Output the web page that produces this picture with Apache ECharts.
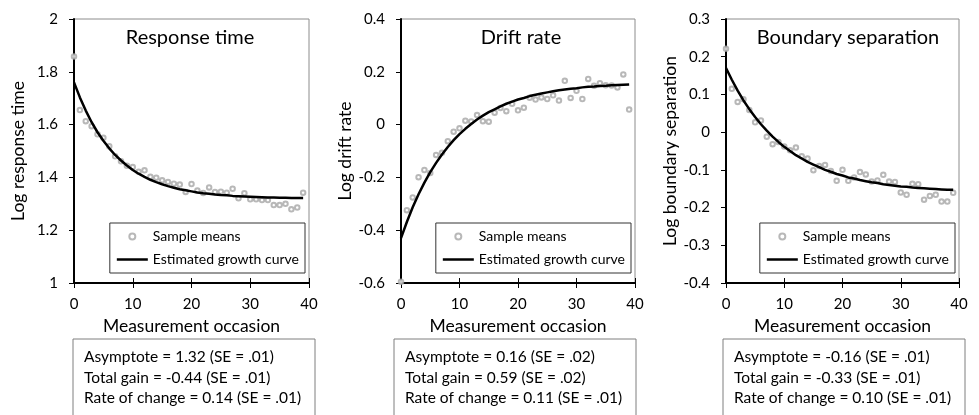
<!DOCTYPE html>
<html>
<head>
<meta charset="utf-8">
<script src="https://cdn.jsdelivr.net/npm/echarts@6/dist/echarts.min.js"></script>
<style>
  html, body { margin: 0; padding: 0; background: #fff; }
  #chart { width: 979px; height: 415px; }
</style>
</head>
<body>
<div id="chart"></div>
<script>
const FONT = 'Lato'

const panelTitles = ['Response time', 'Drift rate', 'Boundary separation']
const yNames = ['Log response time', 'Log drift rate', 'Log boundary separation']
const yMin = [1, -0.6, -0.4]
const yMax = [2, 0.4, 0.3]
const yStep = [0.2, 0.2, 0.1]

// measurement occasions (shared by the sample means and the fitted curve)
const occasions = [0, 1, 2, 3, 4, 5, 6, 7, 8, 9, 10, 11, 12, 13, 14, 15, 16, 17, 18, 19,
  20, 21, 22, 23, 24, 25, 26, 27, 28, 29, 30, 31, 32, 33, 34, 35, 36, 37, 38, 39]

const rtMeans = [1.858, 1.655, 1.613, 1.594, 1.563, 1.550, 1.518, 1.480, 1.461, 1.444,
  1.439, 1.421, 1.427, 1.402, 1.399, 1.389, 1.383, 1.376, 1.373, 1.345,
  1.375, 1.350, 1.341, 1.362, 1.345, 1.346, 1.342, 1.357, 1.321, 1.340,
  1.317, 1.317, 1.314, 1.314, 1.295, 1.295, 1.300, 1.279, 1.286, 1.342]

const driftMeans = [-0.595, -0.324, -0.276, -0.199, -0.172, -0.183, -0.115, -0.107, -0.063, -0.027,
  -0.014, 0.015, 0.012, 0.036, 0.013, 0.011, 0.045, 0.063, 0.051, 0.079,
  0.054, 0.064, 0.102, 0.095, 0.103, 0.097, 0.111, 0.091, 0.166, 0.101,
  0.128, 0.097, 0.173, 0.147, 0.157, 0.149, 0.148, 0.141, 0.190, 0.057]

const boundMeans = [0.221, 0.115, 0.080, 0.087, 0.059, 0.026, 0.031, -0.012, -0.032, -0.026,
  -0.038, -0.048, -0.041, -0.064, -0.070, -0.101, -0.090, -0.087, -0.103, -0.129,
  -0.100, -0.129, -0.120, -0.106, -0.112, -0.131, -0.128, -0.113, -0.131, -0.132,
  -0.160, -0.166, -0.137, -0.138, -0.179, -0.169, -0.166, -0.184, -0.184, -0.161]

// estimated growth curves, read at every occasion
const rtCurve = [1.760, 1.703, 1.653, 1.609, 1.571, 1.539, 1.510, 1.485, 1.464, 1.445,
  1.428, 1.414, 1.402, 1.391, 1.382, 1.374, 1.367, 1.361, 1.355, 1.351,
  1.347, 1.343, 1.340, 1.338, 1.335, 1.333, 1.332, 1.330, 1.329, 1.328,
  1.327, 1.326, 1.325, 1.324, 1.324, 1.323, 1.323, 1.322, 1.322, 1.322]
const driftCurve = [-0.430, -0.369, -0.313, -0.264, -0.220, -0.180, -0.145, -0.113, -0.085, -0.059,
  -0.036, -0.016, 0.002, 0.019, 0.034, 0.047, 0.058, 0.069, 0.079, 0.087,
  0.095, 0.101, 0.108, 0.113, 0.118, 0.122, 0.126, 0.130, 0.133, 0.136,
  0.138, 0.141, 0.143, 0.144, 0.146, 0.147, 0.149, 0.150, 0.151, 0.152]
const boundCurve = [0.170, 0.139, 0.110, 0.084, 0.061, 0.040, 0.021, 0.004, -0.012, -0.026,
  -0.039, -0.050, -0.061, -0.070, -0.079, -0.086, -0.093, -0.100, -0.105, -0.111,
  -0.115, -0.120, -0.123, -0.127, -0.130, -0.133, -0.135, -0.138, -0.140, -0.142,
  -0.144, -0.145, -0.147, -0.148, -0.149, -0.150, -0.151, -0.152, -0.153, -0.153]

// parameter estimates shown under each panel
const asymptote = [1.32, 0.16, -0.16]
const asymptoteSE = [0.01, 0.02, 0.01]
const totalGain = [-0.44, 0.59, -0.33]
const totalGainSE = [0.01, 0.02, 0.01]
const rate = [0.14, 0.11, 0.10]
const rateSE = [0.01, 0.01, 0.01]

const means = [rtMeans, driftMeans, boundMeans]
const curves = [rtCurve, driftCurve, boundCurve]

// layout
const gridLeft = [74, 401, 726]
const gridWidth = [235, 234, 233]
const titleX = [190, 521, 848]
const boxLeft = [73, 394, 723]

const se = v => v.toFixed(2).replace(/^0/, '')

const chart = echarts.init(document.getElementById('chart'))

const grid = [], xAxis = [], yAxis = [], series = [], title = [], legend = [], graphic = []

for (let i = 0; i < 3; i++) {
  grid.push({
    left: gridLeft[i], top: 19, width: gridWidth[i], height: 264,
    show: true, borderColor: '#8c8c8c', borderWidth: 1
  })
  xAxis.push({
    type: 'value', gridIndex: i, min: 0, max: 40, interval: 10,
    name: 'Measurement occasion', nameLocation: 'middle', nameGap: 29,
    nameTextStyle: { fontFamily: FONT, fontSize: 17.5, color: '#000' },
    axisLine: { onZero: false, lineStyle: { color: '#000', width: 2 } },
    axisTick: { length: 5, lineStyle: { color: '#000', width: 1 } },
    axisLabel: { margin: 14, fontFamily: FONT, fontSize: 15, color: '#000' },
    splitLine: { show: false }
  })
  yAxis.push({
    type: 'value', gridIndex: i, min: yMin[i], max: yMax[i], interval: yStep[i],
    name: yNames[i], nameLocation: 'middle', nameGap: 47, nameRotate: 90,
    nameTextStyle: { fontFamily: FONT, fontSize: 17.5, color: '#000' },
    axisLine: { onZero: false, lineStyle: { color: '#000', width: 2 } },
    axisTick: { length: 5, lineStyle: { color: '#000', width: 1 } },
    axisLabel: { margin: 16, fontFamily: FONT, fontSize: 15, color: '#000' },
    splitLine: { show: false }
  })
  title.push({
    text: panelTitles[i], left: titleX[i], top: 28, textAlign: 'center', padding: 0,
    textStyle: { fontFamily: FONT, fontSize: 20, fontWeight: 'normal', color: '#000' }
  })
  legend.push({
    right: 979 - (gridLeft[i] + gridWidth[i]) + 4, top: 223, orient: 'vertical',
    backgroundColor: '#fff', borderColor: '#333', borderWidth: 1,
    padding: [5, 6, 5, 7], itemGap: 6, itemWidth: 31, itemHeight: 6,
    selectedMode: false,
    textStyle: { fontFamily: FONT, fontSize: 14, lineHeight: 17, color: '#000' },
    data: [
      { name: 'Sample means', icon: 'emptyCircle' },
      { name: 'Estimated growth curve', icon: 'path://M0,0L31,0L31,2.5L0,2.5Z' }
    ]
  })
  series.push({
    type: 'scatter', name: 'Sample means', xAxisIndex: i, yAxisIndex: i,
    symbol: 'emptyCircle', symbolSize: 4.5,
    itemStyle: { color: '#a6a6a6', borderColor: '#a6a6a6', borderWidth: 1 },
    data: occasions.map((x, k) => [x, means[i][k]])
  })
  series.push({
    type: 'line', name: 'Estimated growth curve', xAxisIndex: i, yAxisIndex: i,
    symbol: 'none', showSymbol: false,
    lineStyle: { color: '#000', width: 2.5 }, itemStyle: { color: '#000' },
    data: occasions.map((x, k) => [x, curves[i][k]])
  })
  const lines = [
    'Asymptote = ' + asymptote[i].toFixed(2) + ' (SE = ' + se(asymptoteSE[i]) + ')',
    'Total gain = ' + totalGain[i].toFixed(2) + ' (SE = ' + se(totalGainSE[i]) + ')',
    'Rate of change = ' + rate[i].toFixed(2) + ' (SE = ' + se(rateSE[i]) + ')'
  ]
  graphic.push({
    type: 'rect', shape: { x: boxLeft[i], y: 339, width: 242, height: 90 },
    style: { fill: '#fff', stroke: '#7f7f7f', lineWidth: 1 }
  })
  graphic.push({
    type: 'text', x: boxLeft[i] + 11, y: 347,
    style: { text: lines.join('\n'), fontFamily: FONT, fontSize: 15.5, lineHeight: 20.5, fill: '#000' }
  })
}

// x ticks cross the axis: second axis only adds the inner half of each tick
for (let i = 0; i < 3; i++) {
  xAxis.push({
    type: 'value', gridIndex: i, min: 0, max: 40, interval: 10, position: 'bottom',
    axisLine: { show: false, onZero: false },
    axisTick: { inside: true, length: 5, lineStyle: { color: '#000', width: 1 } },
    axisLabel: { show: false }, splitLine: { show: false }
  })
}

chart.setOption({
  animation: false,
  backgroundColor: '#fff',
  title, grid, xAxis, yAxis, legend, series, graphic
})
</script>
</body>
</html>
